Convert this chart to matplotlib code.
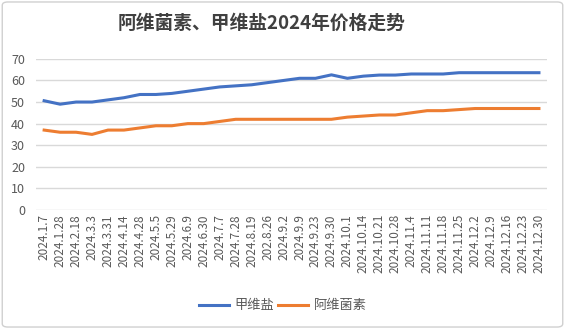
import matplotlib
matplotlib.use("Agg")
import matplotlib.pyplot as plt
from matplotlib.patches import FancyBboxPatch

plt.rcParams["font.family"] = ["Noto Sans CJK SC", "DejaVu Sans"]

dates = [
    "2024.1.7", "2024.1.28", "2024.2.18", "2024.3.3", "2024.3.31", "2024.4.14",
    "2024.4.28", "2024.5.5", "2024.5.29", "2024.6.9", "2024.6.30", "2024.7.7",
    "2024.7.28", "2024.8.19", "202.8.26", "2024.9.2", "2024.9.9", "2024.9.23",
    "2024.9.30", "2024.10.1", "2024.10.14", "2024.10.21", "2024.10.28",
    "2024.11.4", "2024.11.11", "2024.11.18", "2024.11.25", "2024.12.2",
    "2024.12.9", "2024.12.16", "2024.12.23", "2024.12.30",
]
jiaweiyan = [
    50.6, 49, 50, 50, 51, 52, 53.5, 53.5, 54, 55, 56, 57,
    57.5, 58, 59, 60, 61, 61, 62.6, 61, 62, 62.5, 62.5,
    63, 63, 63, 63.6, 63.6, 63.6, 63.6, 63.6, 63.6,
]
aweijunsu = [
    37, 36, 36, 35, 37, 37, 38, 39, 39, 40, 40, 41,
    42, 42, 42, 42, 42, 42, 42, 43, 43.5, 44, 44,
    45, 46, 46, 46.5, 47, 47, 47, 47, 47,
]

fig = plt.figure(figsize=(5.65, 3.29), dpi=100)
fig.patches.append(FancyBboxPatch((0.004, 0.006), 0.992, 0.988,
                                  boxstyle="round,pad=0,rounding_size=0.01",
                                  transform=fig.transFigure, facecolor="white",
                                  edgecolor="#d0d0d0", linewidth=1.0, zorder=-1))
ax = fig.add_axes([0.064, 0.362, 0.904, 0.459])

x = range(len(dates))
ax.plot(x, jiaweiyan, color="#4472C4", linewidth=2.2, label="甲维盐")
ax.plot(x, aweijunsu, color="#ED7D31", linewidth=2.2, label="阿维菌素")

ax.set_xlim(-0.5, len(dates) - 0.5)
ax.set_ylim(0, 70)
ax.set_yticks(range(0, 71, 10))
ax.set_xticks(list(x))
ax.set_xticklabels(dates, rotation=90, fontsize=8.5, color="#595959")
ax.tick_params(axis="y", labelsize=9, colors="#595959", length=0, pad=8)
ax.tick_params(axis="x", length=0, pad=3)
ax.grid(axis="y", color="#d9d9d9", linewidth=1)
ax.set_axisbelow(True)
for s in ax.spines.values():
    s.set_visible(False)

fig.text(0.463, 0.93, "阿维菌素、甲维盐2024年价格走势", ha="center", va="center",
         fontsize=13.5, fontweight="bold", color="#404040")
fig.legend(loc="center", bbox_to_anchor=(0.5, 0.07), ncol=2, frameon=False,
           fontsize=9.5, labelcolor="#595959", handlelength=2.3,
           columnspacing=0.3, handletextpad=0.4)

fig.savefig("out.png", dpi=100)
